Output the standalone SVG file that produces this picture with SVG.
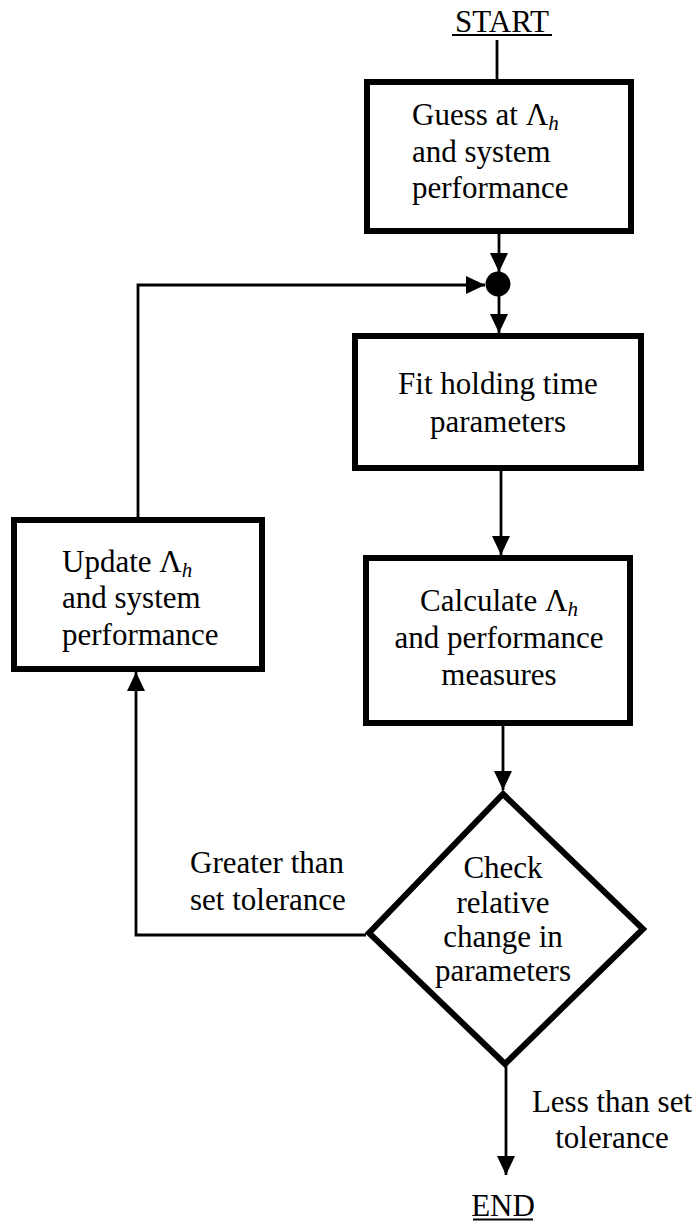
<svg xmlns="http://www.w3.org/2000/svg" width="699" height="1224" viewBox="0 0 699 1224">
<style>
  .box { fill: #fff; stroke: #000; stroke-width: 6; }
  .t { font-family: "Liberation Serif", "Times New Roman", serif; font-size: 31px; fill: #000; }
  .mid { text-anchor: middle; }
  .sub { font-style: italic; font-size: 21px; }
  .c { fill: none; stroke: #000; stroke-width: 2.8; }
  .ul { stroke: #000; stroke-width: 2; }
</style>
<defs>
  <marker id="arr" markerUnits="userSpaceOnUse" markerWidth="20" markerHeight="18" refX="19" refY="9" orient="auto">
    <path d="M0,0 L19,9 L0,18 z" fill="#000"/>
  </marker>
</defs>
<rect width="699" height="1224" fill="#fff"/>

<g id="connectors">
  <line class="c" x1="497" y1="40" x2="497" y2="80"/>
  <line class="c" x1="499" y1="234" x2="499" y2="272" marker-end="url(#arr)"/>
  <line class="c" x1="499" y1="296" x2="499" y2="333" marker-end="url(#arr)"/>
  <line class="c" x1="501" y1="471" x2="501" y2="555" marker-end="url(#arr)"/>
  <line class="c" x1="503" y1="726" x2="503" y2="790" marker-end="url(#arr)"/>
  <line class="c" x1="506" y1="1066" x2="506" y2="1175" marker-end="url(#arr)"/>
  <polyline class="c" points="366,935 136,935 136,672" marker-end="url(#arr)"/>
  <polyline class="c" points="138,518 138,285 485,285" marker-end="url(#arr)"/>
</g>

<g id="start">
  <text class="t mid" x="502" y="32">START</text>
  <line class="ul" x1="452" y1="35" x2="552" y2="35"/>
</g>

<g id="guess">
  <rect class="box" x="367" y="82" width="264" height="149"/>
  <text class="t" x="412" y="125">Guess at Λ<tspan class="sub" dy="5">h</tspan></text>
  <text class="t" x="412" y="162">and system</text>
  <text class="t" x="412" y="198">performance</text>
</g>

<g id="junction">
  <circle cx="498" cy="284" r="12.5" fill="#000"/>
</g>

<g id="fit">
  <rect class="box" x="355" y="336" width="286" height="132"/>
  <text class="t mid" x="498" y="394">Fit holding time</text>
  <text class="t mid" x="498" y="432">parameters</text>
</g>

<g id="calculate">
  <rect class="box" x="366" y="558" width="264" height="165"/>
  <text class="t mid" x="499" y="611">Calculate Λ<tspan class="sub" dy="5">h</tspan></text>
  <text class="t mid" x="499" y="648">and performance</text>
  <text class="t mid" x="499" y="685">measures</text>
</g>

<g id="update">
  <rect class="box" x="14" y="520" width="248" height="149"/>
  <text class="t" x="62" y="572">Update Λ<tspan class="sub" dy="5">h</tspan></text>
  <text class="t" x="62" y="608">and system</text>
  <text class="t" x="62" y="645">performance</text>
</g>

<g id="check">
  <polygon class="box" points="503,794 643,929 505,1064 369,933"/>
  <text class="t mid" x="503" y="878">Check</text>
  <text class="t mid" x="503" y="913">relative</text>
  <text class="t mid" x="503" y="947">change in</text>
  <text class="t mid" x="503" y="981">parameters</text>
</g>

<g id="label-greater">
  <text class="t" x="190" y="873">Greater than</text>
  <text class="t" x="190" y="910">set tolerance</text>
</g>

<g id="label-less">
  <text class="t mid" x="612" y="1112">Less than set</text>
  <text class="t mid" x="612" y="1148">tolerance</text>
</g>

<g id="end">
  <text class="t mid" x="503" y="1216">END</text>
  <line class="ul" x1="473" y1="1219.5" x2="533" y2="1219.5"/>
</g>
</svg>
